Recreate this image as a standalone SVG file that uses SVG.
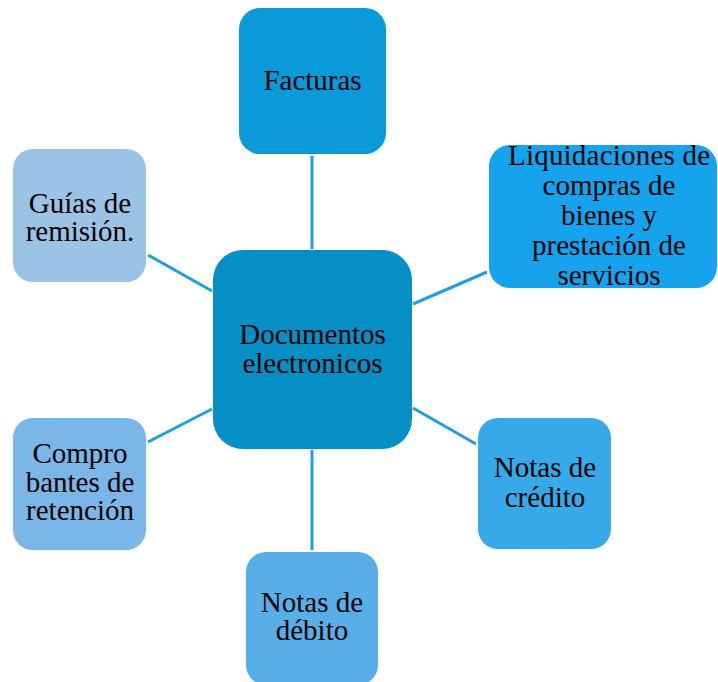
<svg xmlns="http://www.w3.org/2000/svg" width="718" height="682" viewBox="0 0 718 682">
<style>
text{font-family:"Liberation Serif","Times New Roman",serif;font-size:29px;fill:#000;text-anchor:middle}
.c line{stroke:#1ea0dc;stroke-width:3}
</style>
<rect width="718" height="682" fill="#fff"/>
<g class="c" id="connectors">
<line x1="312" y1="156" x2="312" y2="249"/>
<line x1="413" y1="304" x2="487" y2="272"/>
<line x1="148" y1="255" x2="212" y2="291"/>
<line x1="148" y1="442" x2="212" y2="409"/>
<line x1="413" y1="408" x2="476" y2="444"/>
<line x1="312" y1="450" x2="312" y2="550"/>
</g>
<g id="center">
<rect x="213" y="250" width="199" height="199" rx="30" fill="#058fc5"/>
<text x="312.5" y="344">Documentos</text>
<text x="312.5" y="373">electronicos</text>
</g>
<g id="facturas">
<rect x="239" y="8" width="147" height="146" rx="21" fill="#0a9ad9"/>
<text x="312.5" y="90">Facturas</text>
</g>
<g id="liquidaciones">
<rect x="489" y="145" width="228" height="143" rx="21" fill="#15a3ed"/>
<text x="609" y="165" textLength="202" lengthAdjust="spacing">Liquidaciones de</text>
<text x="609" y="195">compras de</text>
<text x="609" y="225">bienes y</text>
<text x="609" y="255">prestación de</text>
<text x="609" y="285">servicios</text>
</g>
<g id="guias">
<rect x="13" y="149" width="133" height="133" rx="20" fill="#9bc3e6"/>
<text x="80" y="213">Guías de</text>
<text x="80" y="241">remisión.</text>
</g>
<g id="comprobantes">
<rect x="13" y="418" width="133" height="132" rx="20" fill="#7ab6e7"/>
<text x="80" y="463">Compro</text>
<text x="80" y="492">bantes de</text>
<text x="80" y="520">retención</text>
</g>
<g id="debito">
<rect x="246" y="552" width="132" height="133" rx="20" fill="#58aee6"/>
<text x="312" y="612">Notas de</text>
<text x="312" y="640">débito</text>
</g>
<g id="credito">
<rect x="478" y="418" width="133" height="131" rx="20" fill="#36a9e8"/>
<text x="545" y="477">Notas de</text>
<text x="545" y="507">crédito</text>
</g>
</svg>
